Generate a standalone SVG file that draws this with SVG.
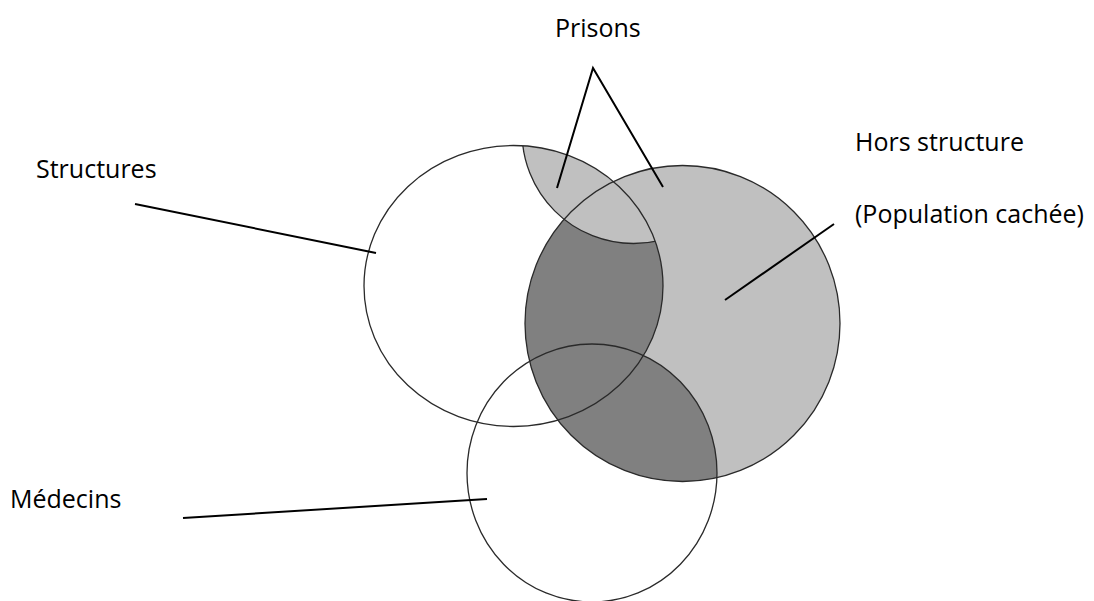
<svg xmlns="http://www.w3.org/2000/svg" width="1094" height="601" viewBox="0 0 1094 601">
  <style>
    .lbl { font-family: "Open Sans", "Liberation Sans", sans-serif; font-size: 25px; fill: #000; }
    .outline { fill: none; stroke: #2a2a2a; stroke-width: 1.3; }
    .light { fill: #c0c0c0; }
    .dark { fill: #808080; }
    .ptr { stroke: #000; stroke-width: 2; fill: none; }
  </style>
  <defs>
    <clipPath id="clipS"><ellipse cx="513.5" cy="286" rx="149.5" ry="140.5"/></clipPath>
    <clipPath id="clipH"><ellipse cx="682.5" cy="323.5" rx="157.5" ry="158"/></clipPath>
  </defs>
  <rect width="1094" height="601" fill="#fff"/>

  <g id="regions">
    <ellipse class="light" cx="682.5" cy="323.5" rx="157.5" ry="158"/>
    <g clip-path="url(#clipH)">
      <ellipse class="dark" cx="513.5" cy="286" rx="149.5" ry="140.5"/>
      <ellipse class="dark" cx="592" cy="473" rx="125" ry="129"/>
    </g>
    <circle class="light" clip-path="url(#clipS)" cx="633.5" cy="132" r="111.5"/>
  </g>

  <g id="structures">
    <ellipse class="outline" cx="513.5" cy="286" rx="149.5" ry="140.5"/>
    <text class="lbl" x="36" y="178">Structures</text>
  </g>
  <g id="hors-structure">
    <ellipse class="outline" cx="682.5" cy="323.5" rx="157.5" ry="158"/>
    <text class="lbl" x="855" y="151">Hors structure</text>
    <text class="lbl" x="855" y="223">(Population cachée)</text>
  </g>
  <g id="medecins">
    <ellipse class="outline" cx="592" cy="473" rx="125" ry="129"/>
    <text class="lbl" x="10" y="508">Médecins</text>
  </g>
  <g id="prisons">
    <circle class="outline" clip-path="url(#clipS)" cx="633.5" cy="132" r="111.5"/>
    <text class="lbl" x="555" y="37">Prisons</text>
  </g>

  <g id="connectors">
    <line class="ptr" x1="135" y1="204" x2="376" y2="253"/>
    <line class="ptr" x1="183" y1="518" x2="487" y2="499"/>
    <line class="ptr" x1="834" y1="224" x2="725" y2="300"/>
    <polyline class="ptr" points="557,188 593,68 663,187"/>
  </g>
</svg>
